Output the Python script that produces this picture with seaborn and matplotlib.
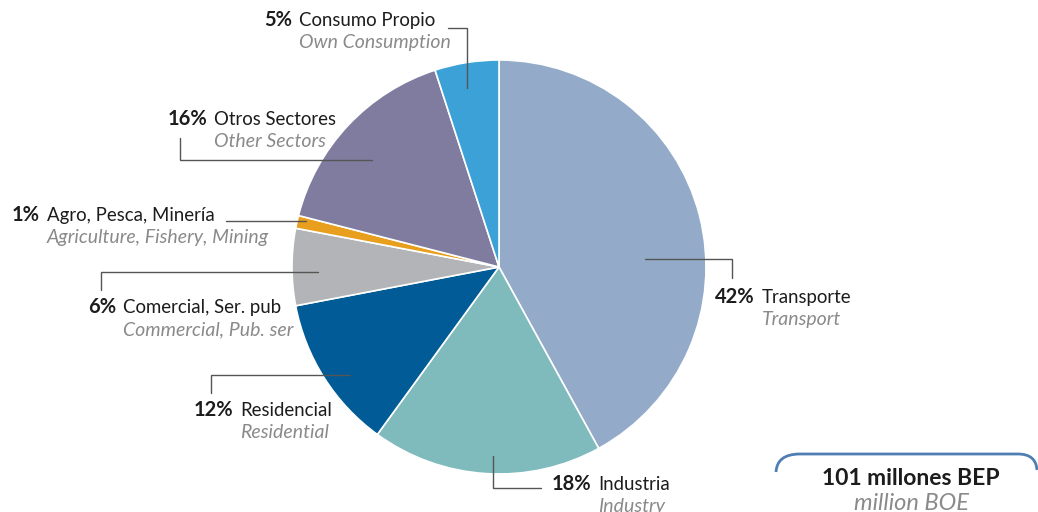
import matplotlib
matplotlib.use("Agg")
import matplotlib.pyplot as plt
from matplotlib.path import Path
from matplotlib.patches import PathPatch
import seaborn as sns

# Final energy consumption by sector (share of total, %)
pct = [42, 18, 12, 6, 1, 16, 5]
sector_es = ["Transporte", "Industria", "Residencial", "Comercial, Ser. pub",
             "Agro, Pesca, Minería", "Otros Sectores", "Consumo Propio"]
sector_en = ["Transport", "Industry", "Residential", "Commercial, Pub. ser",
             "Agriculture, Fishery, Mining", "Other Sectors", "Own Consumption"]
colors = ["#93abc9", "#7fbabd", "#005b96", "#b3b4b7", "#e89f1e", "#7f7ca0", "#3ba1d6"]
total_es = "101 millones BEP"
total_en = "million BOE"

sns.set_theme(style="white")
plt.rcParams["font.family"] = ["Lato", "DejaVu Sans"]

W, H = 1038, 512
fig = plt.figure(figsize=(W / 100, H / 100), dpi=100)
ax = fig.add_axes([0, 0, 1, 1])


def P(x, y):
    """Pixel position (origin top-left) -> axes data coordinates."""
    return x, H - y


cx, cy = P(499, 267)
ax.pie(pct, colors=colors, startangle=90, counterclock=False,
       center=(cx, cy), radius=207,
       wedgeprops=dict(edgecolor="white", linewidth=1.2))
ax.set_xlim(0, W)
ax.set_ylim(0, H)
ax.set_aspect("equal")
ax.axis("off")

# label layout: split x between percent and name, baseline y, leader polyline
layout = [
    dict(split=758, y=303, line=[(645, 259), (732, 259), (732, 278)]),
    dict(split=594, y=490, line=[(493, 456), (493, 488), (541, 488)]),
    dict(split=236, y=416, line=[(350, 375), (211, 375), (211, 393)]),
    dict(split=119, y=313, line=[(318, 272), (101, 272), (101, 290)]),
    dict(split=43, y=221, line=[(226, 221), (306, 221)]),
    dict(split=210, y=125, line=[(180, 138), (180, 160), (372, 160)]),
    dict(split=295, y=26, line=[(448, 28), (467, 28), (467, 88)]),
]

dark = "#1c1c1c"
grey = "#8a8a8a"
fs_pct = 14.5
fs_name = 13.4
fs_en = 14
for p, es, en, lay in zip(pct, sector_es, sector_en, layout):
    sx, sy = lay["split"], lay["y"]
    ax.text(*P(sx - 3, sy), f"{p}%", ha="right", va="baseline",
            fontsize=fs_pct, fontweight="bold", color=dark)
    ax.text(*P(sx + 4, sy), es, ha="left", va="baseline",
            fontsize=fs_name, color=dark)
    ax.text(*P(sx + 4, sy + 22), en, ha="left", va="baseline",
            fontsize=fs_en, style="italic", color=grey)
    xs, ys = zip(*[P(x, y) for x, y in lay["line"]])
    ax.plot(xs, ys, color="#555555", linewidth=1.0, solid_joinstyle="miter")

# total box: rounded top border
verts = [P(776, 472), P(777, 454), P(800, 454), P(1018, 454),
         P(1036, 454), P(1037, 470)]
codes = [Path.MOVETO, Path.CURVE3, Path.CURVE3, Path.LINETO,
         Path.CURVE3, Path.CURVE3]
ax.add_patch(PathPatch(Path(verts, codes), facecolor="none",
                       edgecolor="#4f7fb2", linewidth=2, clip_on=False))
ax.text(*P(911, 485), total_es, ha="center", va="baseline",
        fontsize=16.5, fontweight="bold", color=dark)
ax.text(*P(911, 510), total_en, ha="center", va="baseline",
        fontsize=17, style="italic", color=grey)

fig.savefig("out.png", dpi=100)
